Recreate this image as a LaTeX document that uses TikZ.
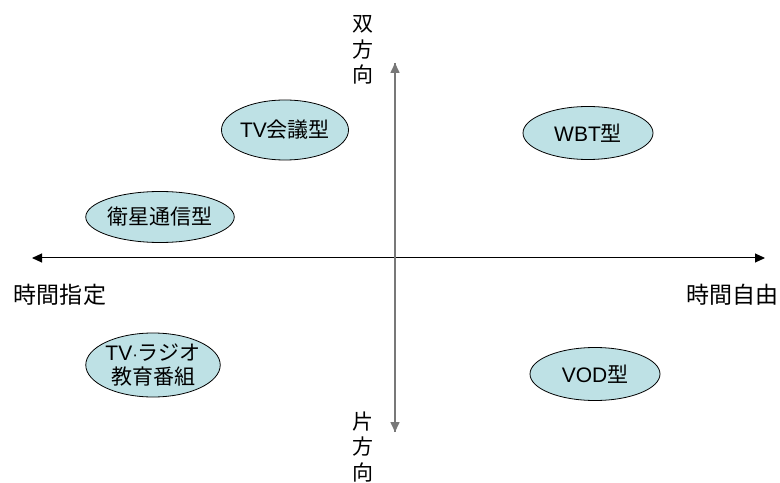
\documentclass[tikz,border=0pt]{standalone}
\usepackage{fontspec}
\setmainfont{Liberation Sans}
\newfontfamily\jp{Noto Sans CJK JP}
\usetikzlibrary{shapes.geometric,arrows.meta}
\definecolor{bubble}{RGB}{190,225,229}
\definecolor{vaxis}{RGB}{120,120,120}
\tikzset{
  bub/.style={ellipse,draw=black,line width=0.8bp,fill=bubble,inner sep=0pt,
    font=\fontsize{21bp}{24bp}\selectfont,align=center},
  axlab/.style={font=\jp\fontsize{23bp}{26bp}\selectfont,inner sep=0pt,align=center},
  vlab/.style={font=\jp\fontsize{21bp}{25.5bp}\selectfont,inner sep=0pt,align=center},
  tip/.style={-{Triangle[length=10bp,width=9bp]}},
}
\begin{document}
\begin{tikzpicture}[x=1bp,y=-1bp]
\useasboundingbox (0,0) rectangle (780,483);
\fill[white] (0,0) rectangle (780,483);
% axes
\coordinate (L) at (32,258);
\coordinate (R) at (765,258);
\coordinate (T) at (395,63);
\coordinate (B) at (395,432);
\draw[line width=1bp,black,{Triangle[length=10bp,width=9bp]}-{Triangle[length=10bp,width=9bp]}] (L) -- (R);
\draw[line width=1.6bp,vaxis,tip] (B) -- (T);
\draw[line width=1.6bp,vaxis,tip] (T) -- (B);
% axis labels
\node[vlab] (up) at (363,50) {双\\方\\向};
\node[vlab] (down) at (363,447) {片\\方\\向};
\node[axlab] (left) at (60,295) {時間指定};
\node[axlab] (right) at (732,295) {時間自由};
% bubbles
\node[bub,minimum width=126bp,minimum height=60bp] (tvc) at (285,130) {TV{\jp 会議型}};
\node[bub,minimum width=130bp,minimum height=53bp] (wbt) at (588,133) {WBT{\jp 型}};
\node[bub,minimum width=138bp,minimum height=51bp] (sat) at (160,217) {{\jp 衛星通信型}};
\node[bub,minimum width=120bp,minimum height=64bp] (tvr) at (153,365) {TV{\fontsize{17bp}{20bp}\selectfont ·}{\jp ラジオ}\\{\jp 教育番組}};
\node[bub,minimum width=130bp,minimum height=53bp] (vod) at (595,374) {VOD{\jp 型}};
\end{tikzpicture}
\end{document}
